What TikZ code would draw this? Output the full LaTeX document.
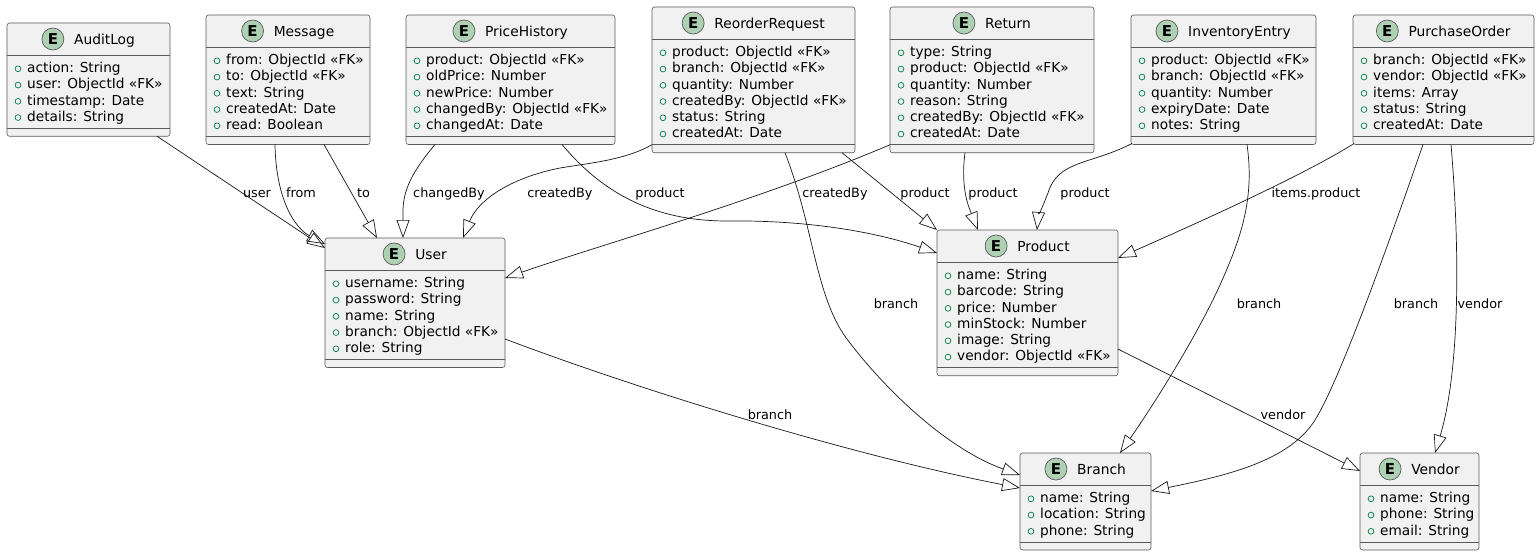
\documentclass[tikz,border=0pt]{standalone}
\usepackage{fontspec}
\setmainfont{DejaVu Sans}
\usetikzlibrary{arrows.meta,fit,calc}

\definecolor{boxfill}{HTML}{F1F1F1}
\definecolor{boxline}{HTML}{181818}
\definecolor{framegray}{HTML}{5A5A5A}
\definecolor{badge}{HTML}{ADD1B2}
\definecolor{pub}{HTML}{038048}

\tikzset{
  ebox/.style={draw=framegray, fill=boxfill, rounded corners=2.5pt, line width=0.6pt, inner sep=0pt, outer sep=0pt},
  sepline/.style={draw=framegray, line width=0.6pt},
  etitle/.style={font=\fontsize{13.8}{16}\selectfont, inner sep=0pt, anchor=base},
  ebadge/.style={circle, fill=badge, draw=framegray, line width=0.7pt, minimum size=22pt, inner sep=0pt,
                 font=\bfseries\fontsize{15}{16}\selectfont},
  attr/.style={font=\fontsize{13.7}{16}\selectfont, inner sep=0pt, anchor=base west},
  bullet/.style={draw=pub, line width=0.7pt},
  lbl/.style={font=\fontsize{12.8}{15}\selectfont, inner sep=0pt, anchor=base},
  rel/.style={draw=boxline, line width=0.7pt, -{Triangle[open,length=18pt,width=13pt]}},
}

% #1 name, #2 left, #3 top, #4 right, #5 number of fields, #6 title, #7 fields
\newcommand\entity[7]{%
  \pgfmathsetmacro\eBot{#3+64.5+(#5-1)*16.25}
  \node[ebox, fit={(#2,#3) (#4,\eBot)}] (#1) {};
  \draw[sepline] (#2,#3+32) -- (#4,#3+32);
  \draw[sepline] (#2,\eBot-8) -- (#4,\eBot-8);
  \node[etitle] (#1-title) at ({(#2+#4)/2+16}, #3+21) {#6};
  \node[ebadge] (#1-badge) at ($(#1-title.base west)+(-21,-5)$) {E};
  \foreach \a [count=\i] in {#7} {
    \pgfmathsetmacro\yy{#3+44.5+(\i-1)*16.25}
    \draw[bullet] (#2+11,\yy+1.3) circle[radius=2.9];
    \node[attr] (#1-f\i) at (#2+20,\yy+5) {\a};
  }
}

\begin{document}
\begin{tikzpicture}[x=1pt, y=-1pt]
  \fill[white] (0,0) rectangle (1540,555);
  \useasboundingbox (0,0) rectangle (1540,555);

  % entities
  \entity{AuditLog}{7}{23}{170}{4}{AuditLog}{action: String, user: ObjectId «FK», timestamp: Date, details: String}
  \entity{Message}{206}{15}{370}{5}{Message}{from: ObjectId «FK», to: ObjectId «FK», text: String, createdAt: Date, read: Boolean}
  \entity{PriceHistory}{406}{15}{615}{5}{PriceHistory}{product: ObjectId «FK», oldPrice: Number, newPrice: Number, changedBy: ObjectId «FK», changedAt: Date}
  \entity{ReorderRequest}{652}{7}{855}{6}{ReorderRequest}{product: ObjectId «FK», branch: ObjectId «FK», quantity: Number, createdBy: ObjectId «FK», status: String, createdAt: Date}
  \entity{Return}{890}{7}{1094}{6}{Return}{type: String, product: ObjectId «FK», quantity: Number, reason: String, createdBy: ObjectId «FK», createdAt: Date}
  \entity{InventoryEntry}{1131}{15}{1316}{5}{InventoryEntry}{product: ObjectId «FK», branch: ObjectId «FK», quantity: Number, expiryDate: Date, notes: String}
  \entity{PurchaseOrder}{1353}{15}{1534}{5}{PurchaseOrder}{branch: ObjectId «FK», vendor: ObjectId «FK», items: Array, status: String, createdAt: Date}
  \entity{User}{325}{238}{505}{5}{User}{username: String, password: String, name: String, branch: ObjectId «FK», role: String}
  \entity{Product}{937}{230}{1118}{6}{Product}{name: String, barcode: String, price: Number, minStock: Number, image: String, vendor: ObjectId «FK»}
  \entity{Branch}{1020}{453}{1151}{3}{Branch}{name: String, location: String, phone: String}
  \entity{Vendor}{1360}{453}{1479}{3}{Vendor}{name: String, phone: String, email: String}

  % references to User
  \draw[rel] ([xshift=150]AuditLog.south west) -- ([yshift=-10]User.north west);
  \draw[rel] ([xshift=69]Message.south west) .. controls (276,200) and (295,228) .. ([yshift=-6]User.north west);
  \draw[rel] ([xshift=118]Message.south west) -- ([xshift=52]User.north west);
  \draw[rel] ([xshift=29]PriceHistory.south west) .. controls (412,172) and (403,190) .. (403,212) -- ([xshift=78]User.north west);
  \draw[rel] ([yshift=8]ReorderRequest.south west) .. controls (625,160) and (590,163) .. (560,168)
             .. controls (510,178) and (478,200) .. ([xshift=138]User.north west);
  \draw[rel] ([yshift=8]Return.south west) .. controls (760,200) and (600,245) .. ([yshift=-40]User.north east);

  % references to Product
  \draw[rel] ([xshift=156]PriceHistory.south west) .. controls (600,190) and (650,221) .. (727,221)
             .. controls (800,220) and (870,230) .. ([yshift=-23]Product.north west);
  \draw[rel] ([xshift=190]ReorderRequest.south west) -- (Product.north west);
  \draw[rel] ([xshift=75]Return.south west) .. controls (960,190) and (970,210) .. ([xshift=41]Product.north west);
  \draw[rel] ([xshift=1,yshift=1]InventoryEntry.south west) .. controls (1090,165) and (1058,160) .. (1048,193)
             .. controls (1042,208) and (1038,218) .. ([xshift=100]Product.north west);
  \draw[rel] ([xshift=1,yshift=1]PurchaseOrder.south west) .. controls (1320,165) and (1250,200) .. ([yshift=-28]Product.north east);

  % references to Branch
  \draw[rel] ([xshift=133]ReorderRequest.south west) .. controls (815,230) and (815,300) .. (850,343)
             .. controls (890,395) and (950,450) .. ([yshift=-22]Branch.north west);
  \draw[rel] ([xshift=116]InventoryEntry.south west) .. controls (1255,200) and (1240,240) .. (1220,285)
             .. controls (1195,340) and (1150,410) .. ([xshift=100]Branch.north west);
  \draw[rel] ([xshift=70]PurchaseOrder.south west) .. controls (1390,240) and (1340,380) .. (1315,420)
             .. controls (1290,460) and (1230,475) .. ([yshift=-38]Branch.north east);
  \draw[rel] ([yshift=-101]User.north east) .. controls (640,390) and (850,455) .. ([yshift=-35]Branch.north west);

  % references to Vendor
  \draw[rel] ([xshift=98]PurchaseOrder.south west) .. controls (1460,250) and (1460,370) .. ([xshift=75]Vendor.north west);
  \draw[rel] ([yshift=-119]Product.north east) -- ([yshift=-18]Vendor.north west);

  % connector labels
  \node[lbl] (l-user) at (257,197) {user};
  \node[lbl] (l-from) at (301,197) {from};
  \node[lbl] (l-to) at (363.5,197) {to};
  \node[lbl] (l-changedby) at (449,197) {changedBy};
  \node[lbl] (l-rr-createdby) at (560,197) {createdBy};
  \node[lbl] (l-ph-product) at (660,197) {product};
  \node[lbl] (l-ret-createdby) at (835,197) {createdBy};
  \node[lbl] (l-rr-product) at (925,197) {product};
  \node[lbl] (l-ret-product) at (993,197) {product};
  \node[lbl] (l-inv-product) at (1085,197) {product};
  \node[lbl] (l-po-product) at (1316,197) {items.product};
  \node[lbl] (l-rr-branch) at (896,308) {branch};
  \node[lbl] (l-inv-branch) at (1259,308) {branch};
  \node[lbl] (l-po-branch) at (1416,308) {branch};
  \node[lbl] (l-po-vendor) at (1480,308) {vendor};
  \node[lbl] (l-user-branch) at (770,419) {branch};
  \node[lbl] (l-prod-vendor) at (1283,419) {vendor};
\end{tikzpicture}
\end{document}
